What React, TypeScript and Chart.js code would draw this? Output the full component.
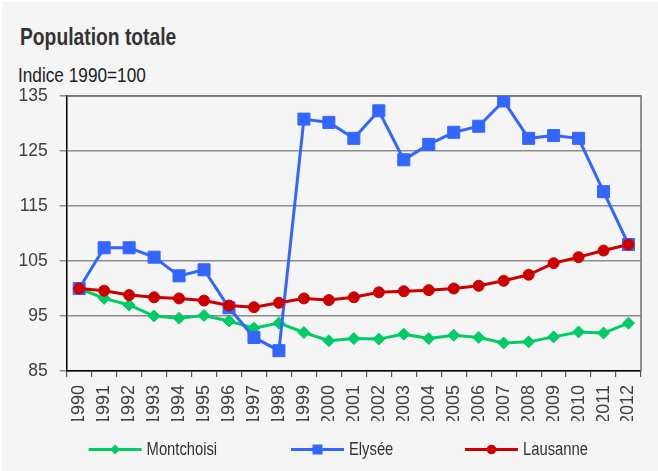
import React, { useEffect, useRef } from "react";
import { Chart, registerables } from "chart.js";

Chart.register(...registerables);

const years = [
  "1990", "1991", "1992", "1993", "1994", "1995", "1996", "1997", "1998", "1999", "2000", "2001",
  "2002", "2003", "2004", "2005", "2006", "2007", "2008", "2009", "2010", "2011", "2012",
];

const montchoisi = [
  100.0, 98.2, 97.0, 95.0, 94.6, 95.1, 94.1, 92.8, 93.7, 92.0, 90.5, 90.9,
  90.8, 91.7, 90.9, 91.5, 91.1, 90.1, 90.3, 91.2, 92.1, 91.9, 93.7,
];

const elysee = [
  100.0, 107.4, 107.4, 105.7, 102.3, 103.4, 96.5, 91.1, 88.7, 130.8, 130.2, 127.3,
  132.3, 123.4, 126.2, 128.4, 129.5, 134.1, 127.3, 127.8, 127.3, 117.6, 108.0,
];

const lausanne = [
  100.0, 99.6, 98.8, 98.4, 98.2, 97.8, 96.9, 96.6, 97.4, 98.2, 97.9, 98.4,
  99.3, 99.5, 99.7, 100.0, 100.5, 101.4, 102.5, 104.6, 105.7, 106.9, 108.0,
];

const yTickValues = [85, 95, 105, 115, 125, 135];

const seriesNames = ["Montchoisi", "Elysée", "Lausanne"];
const seriesColors = ["#00cc66", "#3366ff", "#cc0000"];

const TITLE = "Population totale";
const SUBTITLE = "Indice 1990=100";

const FONT = "'Liberation Sans', Arial, sans-serif";

const legendPlugin = {
  id: "customLegend",
  afterDraw(chart: any) {
    const ctx = chart.ctx;
    const startX = [88.6, 291, 465];
    const y = 449.5;
    const lineLen = 53;
    chart.data.datasets.forEach((ds: any, i: number) => {
      const x0 = startX[i];
      const color = ds.borderColor;
      ctx.save();
      ctx.strokeStyle = color;
      ctx.fillStyle = color;
      ctx.lineWidth = 3;
      ctx.beginPath();
      ctx.moveTo(x0, y);
      ctx.lineTo(x0 + lineLen, y);
      ctx.stroke();
      const cx = x0 + lineLen / 2;
      ctx.beginPath();
      if (ds.pointStyle === "rectRot") {
        const r = 5;
        ctx.moveTo(cx - r, y);
        ctx.lineTo(cx, y - r);
        ctx.lineTo(cx + r, y);
        ctx.lineTo(cx, y + r);
        ctx.closePath();
      } else if (ds.pointStyle === "rect") {
        const h = 5;
        ctx.rect(cx - h, y - h, 2 * h, 2 * h);
      } else {
        ctx.arc(cx, y, 4.8, 0, Math.PI * 2);
      }
      ctx.fill();
      ctx.fillStyle = "#333333";
      ctx.font = `18px ${FONT}`;
      ctx.textAlign = "left";
      ctx.textBaseline = "middle";
      const tx = x0 + lineLen + 5;
      ctx.translate(tx, y + 1);
      ctx.scale(0.82, 1);
      ctx.fillText(ds.label, 0, 0);
      ctx.restore();
    });
  },
};

const framePlugin = {
  id: "plotFrame",
  beforeDatasetsDraw(chart: any) {
    const { ctx, chartArea } = chart;
    ctx.save();
    ctx.strokeStyle = "#707070";
    ctx.lineWidth = 1.5;
    ctx.beginPath();
    ctx.moveTo(chartArea.left, chartArea.top);
    ctx.lineTo(chartArea.right, chartArea.top);
    ctx.lineTo(chartArea.right, chartArea.bottom);
    ctx.stroke();
    ctx.restore();
  },
};

function PopulationChart() {
  const canvasRef = useRef<HTMLCanvasElement | null>(null);

  useEffect(() => {
    const canvas = canvasRef.current;
    if (!canvas) return;
    const chart = new Chart(canvas, {
      type: "line",
      data: {
        labels: years,
        datasets: [
          {
            label: seriesNames[0],
            data: montchoisi,
            borderColor: seriesColors[0],
            backgroundColor: seriesColors[0],
            pointBackgroundColor: seriesColors[0],
            pointBorderColor: seriesColors[0],
            pointStyle: "rectRot",
            pointRadius: 6,
            pointBorderWidth: 1,
            borderWidth: 3,
            tension: 0,
            order: 2,
          },
          {
            label: seriesNames[1],
            data: elysee,
            borderColor: seriesColors[1],
            backgroundColor: seriesColors[1],
            pointBackgroundColor: seriesColors[1],
            pointBorderColor: seriesColors[1],
            pointStyle: "rect",
            pointRadius: 8.5,
            pointBorderWidth: 1,
            borderWidth: 3,
            tension: 0,
            order: 1,
          },
          {
            label: seriesNames[2],
            data: lausanne,
            borderColor: seriesColors[2],
            backgroundColor: seriesColors[2],
            pointBackgroundColor: seriesColors[2],
            pointBorderColor: seriesColors[2],
            pointStyle: "circle",
            pointRadius: 5.5,
            pointBorderWidth: 1,
            borderWidth: 3,
            tension: 0,
            order: 0,
          },
        ],
      },
      options: {
        animation: false,
        responsive: true,
        maintainAspectRatio: false,
        layout: { padding: { left: 18, right: 17, top: 96, bottom: 50 } },
        plugins: {
          legend: { display: false },
          title: { display: false },
          tooltip: { enabled: false },
        },
        scales: {
          x: {
            offset: true,
            afterFit: (axis: any) => {
              axis.height = 50;
              axis.paddingLeft = 0;
              axis.paddingRight = 0;
            },
            grid: {
              offset: true,
              drawOnChartArea: false,
              drawTicks: true,
              tickLength: 6,
              color: "#555555",
              lineWidth: 1.2,
            },
            border: { display: true, color: "#000000", width: 1.5 },
            ticks: {
              autoSkip: false,
              minRotation: 90,
              maxRotation: 90,
              padding: 8,
              color: "#404040",
              font: { family: FONT, size: 18 },
            },
          },
          y: {
            min: 85,
            max: 135,
            afterBuildTicks: (axis: any) => {
              axis.ticks = yTickValues.map((v) => ({ value: v }));
            },
            afterFit: (axis: any) => {
              axis.width = 48.7;
              axis.paddingTop = 0;
              axis.paddingBottom = 0;
            },
            grid: {
              color: "#8c8c8c",
              lineWidth: 1.5,
              tickLength: 7,
            },
            border: { display: true, color: "#000000", width: 1.5 },
            ticks: {
              padding: 12,
              color: "#404040",
              font: { family: FONT, size: 17.5 },
            },
          },
        },
      },
      plugins: [framePlugin, legendPlugin],
    });
    return () => chart.destroy();
  }, []);

  return (
    <div
      style={{
        position: "fixed",
        left: 0,
        top: 0,
        width: 658,
        height: 471,
        background: "#ffffff",
      }}
    >
      <div
        style={{
          position: "absolute",
          left: 2,
          top: 2,
          right: 0,
          bottom: 0,
          background: "#f5f5f5",
        }}
      />
      <div
        style={{
          position: "absolute",
          left: 20,
          top: 26,
          fontFamily: FONT,
          fontWeight: "bold",
          fontSize: 23.5,
          lineHeight: 1,
          color: "#333333",
          whiteSpace: "nowrap",
          transform: "scaleX(0.82)",
          transformOrigin: "left top",
        }}
      >
        {TITLE}
      </div>
      <div
        style={{
          position: "absolute",
          left: 18,
          top: 64,
          fontFamily: FONT,
          fontSize: 21,
          lineHeight: 1,
          color: "#222222",
          whiteSpace: "nowrap",
          transform: "scaleX(0.82)",
          transformOrigin: "left top",
        }}
      >
        {SUBTITLE}
      </div>
      <div style={{ position: "absolute", left: 0, top: 0, width: 658, height: 471 }}>
        <canvas ref={canvasRef} />
      </div>
    </div>
  );
}

export default function App() {
  return <PopulationChart />;
}
